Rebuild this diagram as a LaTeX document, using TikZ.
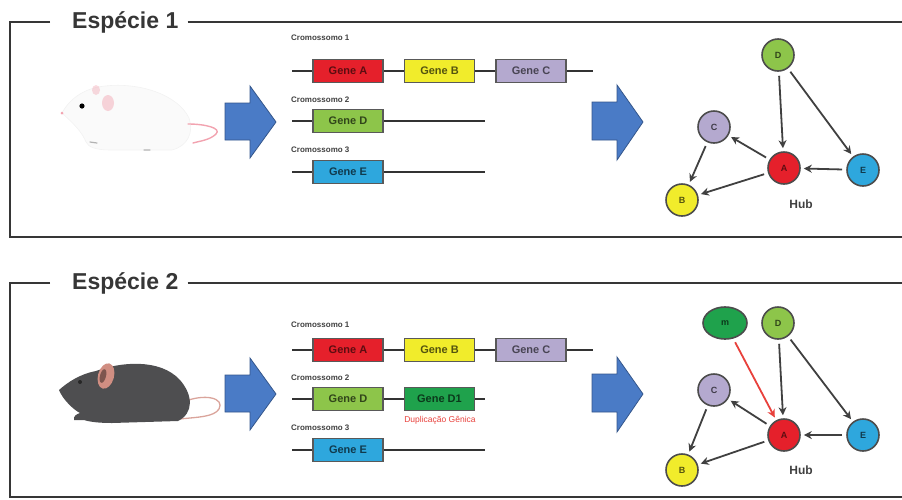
\documentclass[tikz,border=0pt]{standalone}
\usepackage{fontspec}
\setmainfont{Liberation Sans}
\usetikzlibrary{arrows.meta,shapes.geometric}

\definecolor{framegray}{HTML}{363636}
\definecolor{arrowblue}{HTML}{4A7BC6}
\definecolor{geneA}{HTML}{E5202B}
\definecolor{geneB}{HTML}{F1EC2B}
\definecolor{geneC}{HTML}{B4A9CF}
\definecolor{geneD}{HTML}{8DC54A}
\definecolor{geneDone}{HTML}{1FA24C}
\definecolor{geneE}{HTML}{2EA7DD}
\definecolor{dupred}{HTML}{E8413C}
\definecolor{mousegray}{HTML}{4E4E50}
\definecolor{mousepink}{HTML}{D08E82}
\definecolor{lightpink}{HTML}{F2A3B0}

\begin{document}
\begin{tikzpicture}[x=1pt,y=-1pt,
  frame/.style={line width=2.5pt, draw=framegray},
  paneltitle/.style={anchor=west, inner sep=0pt, text=framegray,
    font=\bfseries\fontsize{23}{26}\selectfont},
  gene/.style={draw=black!65, line width=1.4pt, minimum width=70pt,
    minimum height=23pt, inner sep=0pt,
    font=\bfseries\fontsize{11}{12}\selectfont},
  chrlabel/.style={anchor=west, inner sep=0pt, text=black!75,
    font=\bfseries\fontsize{8}{9}\selectfont},
  chrline/.style={line width=1.4pt, draw=black!80},
  gnode/.style={circle, draw=black!70, line width=1.6pt, minimum size=32pt,
    inner sep=0pt, font=\bfseries\fontsize{9}{10}\selectfont},
  hub/.style={inner sep=0pt, text=black!75, font=\bfseries\fontsize{12}{13}\selectfont},
  link/.style={-{Stealth[length=8pt,width=8pt]}, line width=1.8pt,
    draw=black!75, shorten <=4pt, shorten >=3pt},
  bigarrow/.style={fill=arrowblue, draw=arrowblue!70!black, line width=0.8pt}
]
\useasboundingbox (0,0) rectangle (902,499);

% ---------------- panel frames ----------------
\node[paneltitle] (t1) at (72,22) {Espécie 1};
\draw[frame] ([xshift=-22pt]t1.west) -- (10,22) -- (10,237) -- (902,237);
\draw[frame] ([xshift=9pt]t1.east) -- (902,22);

\node[paneltitle] (t2) at (72,283) {Espécie 2};
\draw[frame] ([xshift=-22pt]t2.west) -- (10,283) -- (10,497) -- (902,497);
\draw[frame] ([xshift=9pt]t2.east) -- (902,283);

% ---------------- white mouse ----------------
\fill[black!2, draw=black!5, line width=0.6pt]
  (62,113) .. controls (70,98) and (85,88) .. (105,86)
  .. controls (140,82) and (178,95) .. (189,118)
  .. controls (194,132) and (188,146) .. (172,150)
  -- (110,150) .. controls (96,150) and (88,147) .. (86,142)
  .. controls (82,132) and (74,124) .. (62,113) -- cycle;
\fill[lightpink, opacity=0.45] (108,103) ellipse [x radius=6, y radius=8];
\fill[lightpink, opacity=0.4] (96,90) ellipse [x radius=4, y radius=5];
\fill[black] (82,106) circle [radius=2.6];
\fill[lightpink] (62,113) circle [radius=1.5];
\draw[lightpink, line width=1.4pt, line cap=round]
  (188,124) .. controls (205,124) and (222,128) .. (216,134)
  .. controls (210,140) and (200,141) .. (193,143);
\draw[black!30, line width=1.2pt, line cap=round] (90,142) -- (97,143);
\draw[black!20, line width=1.2pt, line cap=round] (144,150) -- (150,150);

% ---------------- dark mouse ----------------
\draw[mousepink!80, line width=1.3pt, line cap=round]
  (183,402) .. controls (205,393) and (225,398) .. (219,409)
  .. controls (214,417) and (198,417) .. (180,419);
\fill[mousegray]
  (59,390) .. controls (68,382) and (80,374) .. (96,371)
  .. controls (120,362) and (160,358) .. (180,380)
  .. controls (193,395) and (194,413) .. (178,421)
  -- (112,423) .. controls (100,423) and (90,422) .. (84,420)
  -- (74,420) .. controls (73,416) and (77,414) .. (80,413)
  .. controls (74,410) and (63,400) .. (59,390) -- cycle;
\fill[mousepink, rotate around={-15:(106,376)}] (106,376) ellipse [x radius=8, y radius=13];
\fill[mousepink!60!black, rotate around={-15:(103,376)}] (103,376) ellipse [x radius=3, y radius=7];
\fill[black!85] (80,382) circle [radius=2];

% ---------------- blue arrows ----------------
\foreach \dy in {0,272} {
  \filldraw[bigarrow] (225,103+\dy) -- (250,103+\dy) -- (250,86+\dy)
    -- (276,122+\dy) -- (250,158+\dy) -- (250,140+\dy) -- (225,140+\dy) -- cycle;
  \filldraw[bigarrow] (592,102+\dy) -- (617,102+\dy) -- (617,85+\dy)
    -- (643,122+\dy) -- (617,160+\dy) -- (617,140+\dy) -- (592,140+\dy) -- cycle;
}

% ---------------- chromosomes, species 1 ----------------
\node[chrlabel] (l11) at (291,38) {Cromossomo 1};
\node[chrlabel] (l12) at (291,100) {Cromossomo 2};
\node[chrlabel] (l13) at (291,150) {Cromossomo 3};

\node[gene, fill=geneA, text=geneA!40!black] (ga1) at (348,71) {Gene A};
\node[gene, fill=geneB, text=geneB!35!black] (gb1) at (439.5,71) {Gene B};
\node[gene, fill=geneC, text=geneC!40!black] (gc1) at (531,71) {Gene C};
\node[gene, fill=geneD, text=geneD!35!black] (gd1) at (348,121) {Gene D};
\node[gene, fill=geneE, text=geneE!35!black] (ge1) at (348,172) {Gene E};

\coordinate (c11) at (292,71);  \coordinate (c12) at (593,71);
\coordinate (c21) at (292,121); \coordinate (c22) at (485,121);
\coordinate (c31) at (292,172); \coordinate (c32) at (485,172);
\draw[chrline] (c11) -- (ga1.west);
\draw[chrline] (ga1.east) -- (gb1.west);
\draw[chrline] (gb1.east) -- (gc1.west);
\draw[chrline] (gc1.east) -- (c12);
\draw[chrline] (c21) -- (gd1.west);
\draw[chrline] (gd1.east) -- (c22);
\draw[chrline] (c31) -- (ge1.west);
\draw[chrline] (ge1.east) -- (c32);

% ---------------- chromosomes, species 2 ----------------
\node[chrlabel] (l21) at (291,325) {Cromossomo 1};
\node[chrlabel] (l22) at (291,378) {Cromossomo 2};
\node[chrlabel] (l23) at (291,428) {Cromossomo 3};

\node[gene, fill=geneA, text=geneA!40!black] (ga2) at (348,350) {Gene A};
\node[gene, fill=geneB, text=geneB!35!black] (gb2) at (439.5,350) {Gene B};
\node[gene, fill=geneC, text=geneC!40!black] (gc2) at (531,350) {Gene C};
\node[gene, fill=geneD, text=geneD!35!black] (gd2) at (348,399) {Gene D};
\node[gene, fill=geneDone, text=geneDone!35!black] (gdd) at (439.5,399) {Gene D1};
\node[gene, fill=geneE, text=geneE!35!black] (ge2) at (348,450) {Gene E};
\node[inner sep=0pt, text=dupred, font=\fontsize{8.5}{10}\selectfont] (dup) at (440,420) {Duplicação Gênica};

\coordinate (d11) at (292,350); \coordinate (d12) at (593,350);
\coordinate (d21) at (292,399); \coordinate (d22) at (485,399);
\coordinate (d31) at (292,450); \coordinate (d32) at (485,450);
\draw[chrline] (d11) -- (ga2.west);
\draw[chrline] (ga2.east) -- (gb2.west);
\draw[chrline] (gb2.east) -- (gc2.west);
\draw[chrline] (gc2.east) -- (d12);
\draw[chrline] (d21) -- (gd2.west);
\draw[chrline] (gd2.east) -- (gdd.west);
\draw[chrline] (gdd.east) -- (d22);
\draw[chrline] (d31) -- (ge2.west);
\draw[chrline] (ge2.east) -- (d32);

% ---------------- network, species 1 ----------------
\node[gnode, fill=geneD, text=geneD!35!black] (nD1) at (778,55) {D};
\node[gnode, fill=geneC, text=geneC!35!black] (nC1) at (714,127) {C};
\node[gnode, fill=geneA, text=geneA!40!black] (nA1) at (784,168) {A};
\node[gnode, fill=geneE, text=geneE!35!black] (nE1) at (863,170) {E};
\node[gnode, fill=geneB, text=geneB!35!black] (nB1) at (682,200) {B};
\node[hub] (h1) at (801,204) {Hub};

\draw[link] (nD1) -- (nA1);
\draw[link] (nD1) -- (nE1);
\draw[link] (nA1) -- (nC1);
\draw[link] (nC1) -- (nB1);
\draw[link] (nA1) -- (nB1);
\draw[link] (nE1) -- (nA1);

% ---------------- network, species 2 ----------------
\node[gnode, ellipse, minimum width=44pt, minimum height=32pt, fill=geneDone,
      text=geneDone!35!black] (nm2) at (725,323) {m};
\node[gnode, fill=geneD, text=geneD!35!black] (nD2) at (778,323) {D};
\node[gnode, fill=geneC, text=geneC!35!black] (nC2) at (714,390) {C};
\node[gnode, fill=geneA, text=geneA!40!black] (nA2) at (784,435) {A};
\node[gnode, fill=geneE, text=geneE!35!black] (nE2) at (863,435) {E};
\node[gnode, fill=geneB, text=geneB!35!black] (nB2) at (682,470) {B};
\node[hub] (h2) at (801,470) {Hub};

\draw[link, draw=dupred, fill=dupred] (nm2) -- (nA2);
\draw[link] (nD2) -- (nA2);
\draw[link] (nD2) -- (nE2);
\draw[link] (nA2) -- (nC2);
\draw[link] (nC2) -- (nB2);
\draw[link] (nA2) -- (nB2);
\draw[link] (nE2) -- (nA2);
\end{tikzpicture}
\end{document}
